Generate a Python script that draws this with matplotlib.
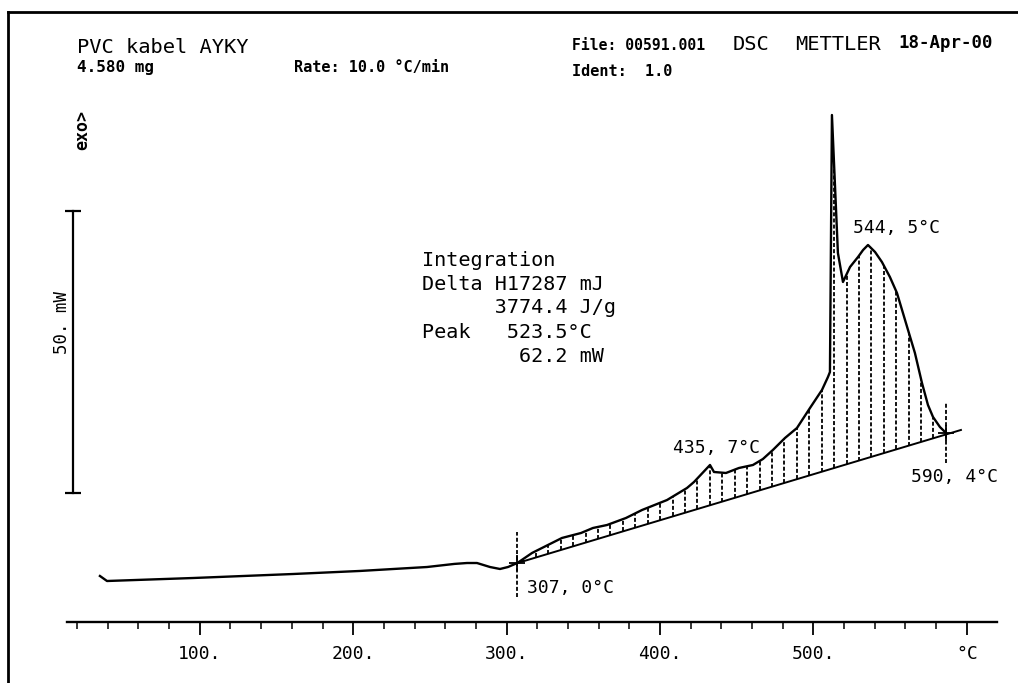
import matplotlib
matplotlib.use('Agg')
import matplotlib.pyplot as plt
from matplotlib.lines import Line2D
import numpy as np

# DSC trace (temperature in C, heat flow in mW, arbitrary zero)
temp_c = [34.9, 39.5, 95.6, 160.8, 204.4, 248.1, 266.0, 274.2, 280.7, 289.2, 295.7, 300.9, 307.0,
          316.6, 327.0, 336.1, 348.5, 356.3, 365.5, 377.8, 388.3, 404.6, 417.6, 422.2, 432.6,
          435.2, 443.0, 451.5, 460.6, 467.1, 473.6, 481.5, 489.3, 497.8, 505.6, 509.5, 510.8,
          512.1, 516.0, 519.3, 523.9, 529.1, 532.4, 535.6, 540.2, 544.7, 549.9, 554.5, 558.4,
          562.3, 566.2, 570.8, 574.7, 578.0, 582.5, 586.5]
heat_mw = [0.71, -0.18, 0.35, 1.06, 1.60, 2.30, 2.85, 3.01, 3.01, 2.30, 1.95, 2.30, 3.01,
           4.79, 6.21, 7.45, 8.33, 9.22, 9.75, 10.99, 12.41, 14.18, 16.31, 17.38, 20.39,
           19.15, 18.97, 19.86, 20.39, 21.45, 23.05, 25.18, 26.95, 30.50, 33.69, 35.99, 36.88,
           82.45, 57.98, 52.84, 55.50, 57.27, 58.51, 59.40, 58.16, 56.38, 53.72, 50.89, 47.34,
           43.79, 40.25, 34.93, 31.03, 28.90, 27.13, 26.06]

# integration baseline
base_t = [307.0, 596.2]
base_mw = [3.0, 26.6]

# integration limits
lim_t = [307.0, 586.5]
lim_mw = [3.0, 26.06]

xticks = [100, 200, 300, 400, 500, 600]
xticklabels = ['100.', '200.', '300.', '400.', '500.', '\u00b0C']

W, H = 1018, 683
MONO = 'DejaVu Sans Mono'

fig = plt.figure(figsize=(W / 100, H / 100), dpi=100)
ax = fig.add_axes([0, (H - 622) / H, 1, 622 / H])
ax.set_xlim(-30.25, 633.4)
ax.set_ylim(-7.45, 102.84)
ax.patch.set_alpha(0)

# hatching between curve and baseline
hatch_t = np.arange(311, 587, 8.1)
lo = np.interp(hatch_t, base_t, base_mw)
hi = np.interp(hatch_t, temp_c, heat_mw)
ax.vlines(hatch_t, lo, hi, colors='black', linewidth=1.3, linestyles=(0, (2.2, 1.2)))

ax.plot(base_t, base_mw, color='black', linewidth=1.4)
ax.plot(temp_c, heat_mw, color='black', linewidth=1.7, solid_joinstyle='round')

# integration limits
ax.vlines([lim_t[0]], -3.0, 8.5, colors='black', linewidth=1.3, linestyles=(0, (2.2, 1.2)))
ax.vlines([lim_t[1]], 20.7, 31.6, colors='black', linewidth=1.3, linestyles=(0, (2.2, 1.2)))
ax.plot(lim_t, lim_mw, '+', color='black', markersize=12, markeredgewidth=1.3)

# 50 mW scale bar
ax.plot([17.3, 17.3], [15.4, 65.4], color='black', linewidth=1.6)
ax.plot([17.3, 17.3], [15.4, 65.4], '_', color='black', markersize=11, markeredgewidth=1.6)

# x axis
for s in ['left', 'right', 'top']:
    ax.spines[s].set_visible(False)
ax.spines['bottom'].set_bounds(13.4, 619.7)
ax.spines['bottom'].set_linewidth(1.7)
ax.set_yticks([])
ax.set_xticks(xticks)
ax.set_xticklabels(xticklabels, fontsize=13, family=MONO)
ax.set_xticks(np.arange(20, 600, 20), minor=True)
ax.tick_params(axis='x', which='major', direction='out', length=9.5, width=1.3, pad=7)
ax.tick_params(axis='x', which='minor', direction='out', length=5, width=1.1)


def put(x, y, s, size, weight='normal', **kw):
    fig.text(x / W, 1 - y / H, s, fontsize=size, family=MONO, weight=weight,
             va='baseline', ha='left', **kw)


put(77, 53, 'PVC kabel AYKY', 14.7)
put(77, 72, '4.580 mg', 11.5, 'bold')
put(294, 72, 'Rate: 10.0 \u00b0C/min', 11, 'bold')
put(572, 50, 'File: 00591.001', 10.6, 'bold')
put(733, 50, 'DSC', 14.7)
put(795, 50, 'METTLER', 14.7)
put(898, 48, '18-Apr-00', 12.5, 'bold')
put(572, 76, 'Ident:  1.0', 11, 'bold')

put(422, 266, 'Integration', 14.5)
put(422, 290, 'Delta H17287 mJ', 14.5)
put(422, 313, '      3774.4 J/g', 14.5)
put(422, 338, 'Peak   523.5\u00b0C', 14.5)
put(422, 362, '        62.2 mW', 14.5)

put(853, 233, '544, 5\u00b0C', 13)
put(673, 453, '435, 7\u00b0C', 13)
put(911, 482, '590, 4\u00b0C', 13)
put(527, 593, '307, 0\u00b0C', 13)

fig.text(82 / W, 1 - 130 / H, 'exo>', fontsize=12, family=MONO, weight='bold',
         rotation=90, ha='center', va='center')
fig.text(62 / W, 1 - 322 / H, '50. mW', fontsize=12.5, family=MONO,
         rotation=90, ha='center', va='center')

# page frame
fig.add_artist(Line2D([8 / W, 8 / W], [0, 1 - 12 / H], color='black', linewidth=2,
                      transform=fig.transFigure))
fig.add_artist(Line2D([8 / W, 1], [1 - 12 / H, 1 - 12 / H], color='black', linewidth=2,
                      transform=fig.transFigure))

fig.savefig('out.png', dpi=100)
